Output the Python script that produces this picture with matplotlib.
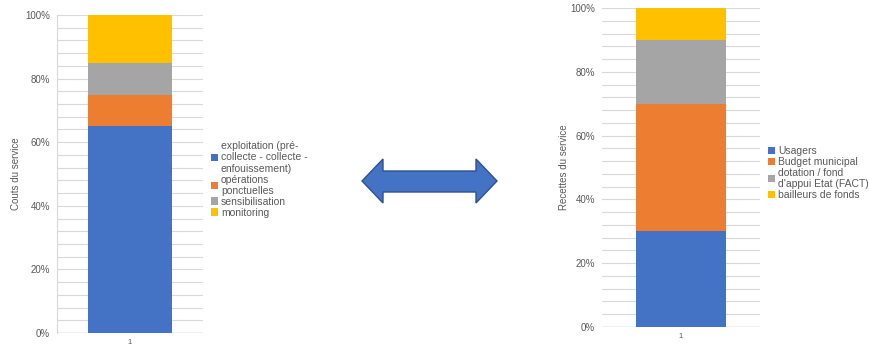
import numpy as np
import matplotlib
matplotlib.use("Agg")
import matplotlib.pyplot as plt
from matplotlib.patches import Polygon

plt.rcParams['font.family'] = ['Liberation Sans', 'DejaVu Sans']

# costs of the service (left) and revenues of the service (right), in %
cost_labels = ["exploitation (pré-\ncollecte - collecte -\nenfouissement)",
               "opérations\nponctuelles", "sensibilisation", "monitoring"]
cost_values = [65, 10, 10, 15]
revenue_labels = ["Usagers", "Budget municipal",
                  "dotation / fond\nd'appui Etat (FACT)", "bailleurs de fonds"]
revenue_values = [30, 40, 20, 10]
category = ["1"]
colors = ["#4472C4", "#ED7D31", "#A5A5A5", "#FFC000"]

text_col = "#595959"
grid_col = "#D9D9D9"
W, H = 870, 346

fig = plt.figure(figsize=(W / 100, H / 100), dpi=100)


def px_axes(x0, y0, x1, y1):
    # axes placed by pixel box (left, top, right, bottom)
    return fig.add_axes([x0 / W, 1 - y1 / H, (x1 - x0) / W, (y1 - y0) / H])


def stacked(ax, values, labels, width, ylabel, label_x, left_line):
    x = np.arange(1, len(category) + 1)
    bottom = 0
    handles = []
    for v, lab, c in zip(values, labels, colors):
        h = ax.bar(x, v, width, bottom=bottom, color=c, label=lab, zorder=3)
        handles.append(h)
        bottom += v
    ax.set_xlim(0.5, 1.5)
    ax.set_ylim(0, 100)
    ax.set_xticks(x)
    ax.set_xticklabels(category)
    ax.set_yticks(np.arange(0, 101, 20))
    ax.set_yticks(np.arange(0, 101, 4), minor=True)
    ax.set_yticklabels([f"{t}%" for t in range(0, 101, 20)])
    ax.grid(axis='y', which='both', color=grid_col, linewidth=0.8, zorder=0)
    ax.axhline(0, color="#BFBFBF", linewidth=1, zorder=1)
    for s in ax.spines.values():
        s.set_visible(False)
    if left_line:
        ax.spines['left'].set_visible(True)
        ax.spines['left'].set_color(grid_col)
    ax.tick_params(axis='y', which='both', length=0, pad=5, labelsize=7,
                   labelcolor=text_col)
    ax.tick_params(axis='x', length=0, pad=4, labelsize=5.5, labelcolor=text_col)
    ax.set_ylabel(ylabel, fontsize=7, color=text_col)
    ax.yaxis.set_label_coords(label_x, 0.5)
    return handles


def legend(handles, labels, x, y):
    leg = fig.legend(handles, labels, loc='upper left', bbox_to_anchor=(x / W, 1 - y / H),
                     frameon=False, fontsize=7.5, labelcolor=text_col, handlelength=0.7,
                     handleheight=0.7, handletextpad=0.25, labelspacing=0.08,
                     borderpad=0, borderaxespad=0)
    for t in leg.get_texts():
        t.set_linespacing(1.17)
    return leg


ax1 = px_axes(57, 15, 203, 333)
h1 = stacked(ax1, cost_values, cost_labels, 0.58, "Couts du service", -0.25, True)
legend(h1, cost_labels, 211, 141)

ax2 = px_axes(602, 8, 760, 327)
h2 = stacked(ax2, revenue_values, revenue_labels, 0.57, "Recettes du service", -0.21, False)
legend(h2, revenue_labels, 768, 146)

# double-headed arrow between the two charts
arrow_px = [(362, 181), (383, 159), (383, 171), (476, 171), (476, 159), (497, 181),
            (476, 203), (476, 192), (383, 192), (383, 203)]
arrow = Polygon([(x / W, 1 - y / H) for x, y in arrow_px], closed=True,
                transform=fig.transFigure, facecolor="#4472C4",
                edgecolor="#2F528F", linewidth=1)
fig.add_artist(arrow)

fig.savefig("out.png", dpi=100)
